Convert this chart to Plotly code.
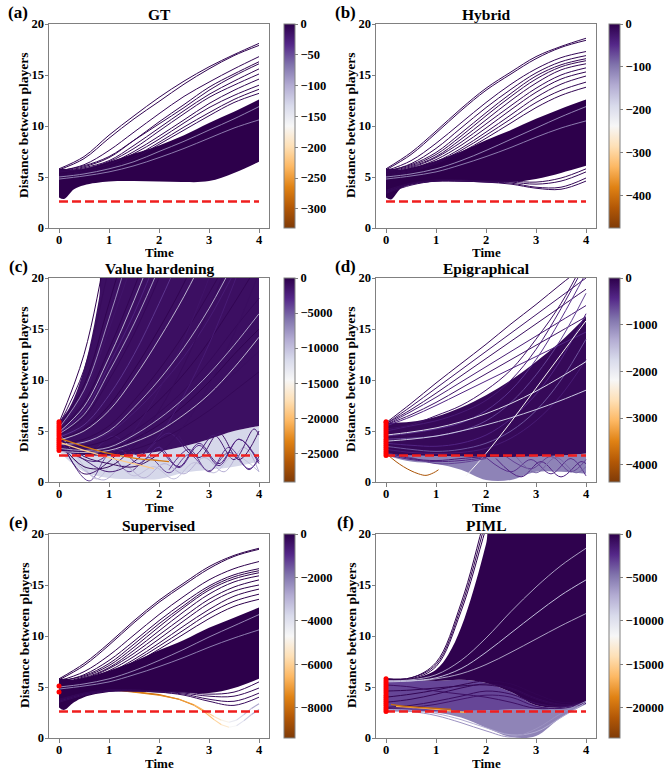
import plotly.graph_objects as go
from plotly.colors import sample_colorscale

# ---------------------------------------------------------------- data
T9 = [0, 0.5, 1, 1.5, 2, 2.5, 3, 3.5, 4]
BAND_T = [0, 0.1, 0.3, 0.5, 1, 1.5, 2, 2.5, 3, 3.5, 4]
TIME_TICKS = [0, 1, 2, 3, 4]
DIST_TICKS = [0, 5, 10, 15, 20]
SAFE_DISTANCE = 2.6

PANEL_LETTERS = ["(a)", "(b)", "(c)", "(d)", "(e)", "(f)"]
PANEL_TITLES = ["GT", "Hybrid", "Value hardening", "Epigraphical", "Supervised", "PIML"]
CBAR_MIN = [-331, -475, -29100, -4370, -9400, -23500]
CBAR_TICKS = [
    [0, -50, -100, -150, -200, -250, -300],
    [0, -100, -200, -300, -400],
    [0, -5000, -10000, -15000, -20000, -25000],
    [0, -1000, -2000, -3000, -4000],
    [0, -2000, -4000, -6000, -8000],
    [0, -5000, -10000, -15000, -20000],
]

# ---- (a) GT
A_BAND_LOW = [3.0, 2.85, 3.8, 4.2, 4.55, 4.6, 4.55, 4.5, 4.6, 5.4, 6.5]
A_BAND_HIGH = [5.8, 5.8, 5.7, 5.8, 6.5, 7.3, 8.1, 9.1, 10.3, 11.4, 12.6]
A_LINES = [
    [5.8, 7.0, 9.1, 11.0, 12.8, 14.4, 15.8, 17.0, 18.1],
    [5.7, 6.8, 8.8, 10.7, 12.4, 14.1, 15.6, 16.9, 17.9],
    [5.6, 6.2, 7.6, 9.4, 11.2, 12.9, 14.3, 15.6, 16.8],
    [5.5, 6.0, 6.9, 8.6, 10.4, 12.1, 13.8, 15.1, 16.3],
    [5.6, 6.1, 7.0, 8.6, 10.2, 11.8, 13.5, 14.9, 16.1],
    [5.4, 5.9, 6.6, 8.1, 9.8, 11.5, 13.1, 14.4, 15.6],
    [5.5, 5.8, 6.5, 7.8, 9.5, 11.2, 12.8, 14.0, 15.1],
    [5.3, 5.7, 6.3, 7.5, 9.0, 10.6, 12.2, 13.5, 14.6],
    [5.2, 5.6, 6.2, 7.3, 8.7, 10.3, 11.8, 13.0, 14.0],
    [5.0, 5.5, 6.0, 7.0, 8.4, 9.9, 11.3, 12.6, 13.6],
    [5.1, 5.4, 5.9, 6.8, 8.2, 9.6, 11.0, 12.3, 13.2],
    [5.0, 5.3, 5.8, 6.5, 7.5, 8.5, 9.6, 10.7, 11.9],
    [4.8, 5.1, 5.5, 6.1, 6.9, 7.8, 8.8, 9.8, 10.6],
]
A_VALUES = [-5, -4, -6, -3, -5, -4, -6, -3, -5, -4, -6, -95, -90]

# ---- (b) Hybrid
B_BAND_LOW = [3.0, 2.8, 3.9, 4.3, 4.6, 4.65, 4.55, 4.5, 4.8, 5.4, 6.1]
B_BAND_HIGH = [5.8, 5.8, 5.7, 5.9, 6.6, 7.5, 8.6, 9.6, 10.7, 11.7, 12.6]
B_LINES = [
    [5.8, 7.4, 9.5, 11.7, 13.7, 15.3, 16.8, 17.8, 18.6],
    [5.7, 7.2, 9.3, 11.5, 13.5, 15.1, 16.6, 17.7, 18.4],
    [5.6, 6.6, 8.3, 10.3, 12.3, 14.1, 15.6, 16.7, 17.3],
    [5.5, 6.3, 7.8, 9.8, 11.8, 13.6, 15.2, 16.3, 16.9],
    [5.6, 6.2, 7.4, 9.3, 11.3, 13.2, 14.9, 16.0, 16.6],
    [5.5, 6.1, 7.2, 9.0, 11.0, 12.9, 14.6, 15.8, 16.4],
    [5.4, 6.0, 7.0, 8.7, 10.6, 12.5, 14.2, 15.5, 16.1],
    [5.3, 5.9, 6.9, 8.4, 10.2, 12.0, 13.7, 15.0, 15.7],
    [5.4, 5.8, 6.7, 8.1, 9.8, 11.6, 13.3, 14.6, 15.3],
    [5.2, 5.7, 6.5, 7.8, 9.4, 11.1, 12.8, 14.1, 14.9],
    [5.1, 5.6, 6.4, 7.6, 9.1, 10.7, 12.3, 13.5, 14.3],
    [5.0, 5.5, 6.3, 7.4, 8.8, 10.3, 11.8, 13.0, 13.8],
    [3.5, 4.3, 4.6, 4.6, 4.5, 4.3, 3.9, 3.8, 4.6],
    [3.4, 4.2, 4.6, 4.6, 4.5, 4.4, 4.0, 4.0, 4.9],
    [3.6, 4.3, 4.6, 4.6, 4.6, 4.5, 4.3, 4.6, 5.5],
    [3.7, 4.4, 4.7, 4.7, 4.6, 4.6, 4.5, 4.9, 5.8],
    [5.0, 5.3, 5.8, 6.6, 7.6, 8.7, 9.8, 10.9, 11.9],
    [4.8, 5.1, 5.5, 6.2, 7.0, 7.9, 8.9, 9.8, 10.5],
]
B_VALUES = [-8, -6, -9, -5, -7, -8, -6, -9, -5, -7, -8, -6, -12, -10, -9, -8,
            -140, -130]

# ---- (c) Value hardening
C_MAIN_LOW = [3.0, 2.7, 2.6, 2.7, 3.0, 3.5, 4.2, 5.0, 5.5]
C_MAIN_HIGH_T = [0, 0.2, 0.4, 0.6, 0.8, 1.0, 4.0]
C_MAIN_HIGH = [5.9, 7.2, 9.5, 13.0, 18.0, 24.0, 24.0]
C_LOW_LOW = [3.0, 1.0, 0.4, 0.3, 0.3, 0.9, 1.2, 1.5, 2.0]
C_RISE = [
    [5.8, 12.5, 24, 36, 48, 60, 72, 84, 96],
    [5.6, 11.0, 21, 31, 41, 51, 61, 71, 81],
    [5.4, 9.5, 17.5, 26, 35, 44, 53, 62, 71],
    [5.2, 8.6, 15.0, 22, 30, 38, 46, 54, 62],
    [5.0, 7.8, 13.0, 19.0, 25.5, 32, 39, 46, 53],
    [4.8, 7.0, 11.5, 16.5, 22.5, 29, 36, 43, 50],
    [4.6, 6.3, 10.0, 14.5, 20.0, 26, 32, 38, 44],
    [4.4, 5.6, 8.5, 12.5, 17.5, 23, 29, 35, 41],
    [4.2, 5.2, 7.5, 11.0, 15.0, 19.5, 25, 31, 37],
    [4.0, 4.6, 6.5, 9.5, 13.0, 17.0, 21.5, 27, 33],
    [3.8, 4.2, 5.5, 8.0, 11.0, 14.5, 18.5, 23, 28],
    [3.6, 3.8, 4.8, 6.8, 9.3, 12.3, 16.0, 20.5, 25],
    [3.5, 3.5, 4.2, 5.8, 8.0, 10.6, 13.8, 17.5, 21.5],
    [3.4, 3.2, 3.6, 5.0, 6.8, 9.0, 11.8, 15.0, 18.0],
    [3.3, 3.0, 3.2, 4.2, 5.6, 7.5, 9.8, 12.5, 15.0],
    [3.2, 2.8, 2.9, 3.6, 4.8, 6.4, 8.4, 10.6, 12.8],
    [3.1, 2.7, 2.7, 3.2, 4.1, 5.4, 7.0, 8.9, 10.8],
    [4.5, 0.8, 2.0, 5.0, 9.0, 14.0, 20.0, 27, 34],
    [4.0, 1.5, 1.5, 3.5, 7.0, 11.5, 17.0, 23, 30],
    [3.9, 2.2, 1.0, 2.0, 4.5, 8.5, 13.5, 19.5, 26],
    [4.3, 2.5, 1.8, 1.5, 2.8, 5.5, 9.5, 14.5, 20.5],
    [5.3, 9.0, 16.0, 24, 32, 40, 48, 56, 64],
    [4.7, 6.6, 10.8, 15.5, 21, 27, 33, 39, 45],
    [4.1, 5.0, 7.0, 10.2, 14.0, 18.2, 23, 28, 33],
    [3.7, 3.9, 5.0, 7.3, 10.0, 13.2, 17.0, 21.5, 26],
    [4.9, 7.4, 12.2, 17.8, 24, 30, 36, 42, 48],
    [3.3, 3.1, 3.4, 4.6, 6.2, 8.2, 10.6, 13.4, 16.5],
    [3.0, 2.9, 3.1, 3.9, 5.0, 6.6, 8.6, 11.2, 14.2],
]
C_RISE_VALUES = [-200, -800, -300, -1500, -400, -2500, -600, -3500, -300, -1200,
                 -500, -2000, -400, -700, -300, -1000, -600, -1500, -800, -2000,
                 -1000, -9000, -10000, -12000, -11000, -11500, -10500, -12500]
C_ZIG_T = [
    [0, 0.6, 1.0, 1.4, 1.8, 2.2, 2.6, 3.0, 3.4, 3.8, 4.0],
    [0, 0.5, 0.9, 1.3, 1.7, 2.1, 2.5, 2.9, 3.3, 3.7, 4.0],
    [0, 0.7, 1.2, 1.6, 2.0, 2.4, 2.8, 3.2, 3.6, 4.0],
    [0, 0.6, 1.1, 1.6, 2.2, 2.7, 3.1, 3.5, 3.9, 4.0],
    [0, 0.4, 0.75, 1.1, 1.5, 1.9, 2.3, 2.7, 3.1, 3.5, 4.0],
    [2.0, 2.4, 2.8, 3.2, 3.6, 4.0],
    [2.2, 2.6, 3.0, 3.4, 3.8, 4.0],
    [2.4, 2.8, 3.2, 3.6, 4.0],
]
C_ZIG = [
    [4.5, 0.1, 2.6, 1.0, 2.4, 0.9, 2.7, 1.1, 2.9, 1.3, 2.2],
    [4.0, 1.2, 0.2, 1.6, 0.4, 1.8, 0.8, 2.4, 1.0, 3.4, 1.0],
    [3.6, 2.0, 3.2, 1.8, 3.4, 1.4, 3.6, 1.6, 4.2, 1.8],
    [5.0, 3.0, 4.5, 2.6, 4.8, 2.6, 4.6, 2.2, 5.2, 4.6],
    [4.8, 2.2, 0.3, 1.8, 0.6, 1.5, 0.3, 1.9, 0.9, 2.6, 1.0],
    [3.5, 1.5, 3.8, 1.8, 4.2, 2.0],
    [1.2, 3.2, 1.0, 3.4, 1.2, 2.5],
    [4.5, 2.4, 4.8, 2.2, 5.0],
]
C_ZIG_VALUES = [-4000, -9000, -3000, -2000, -10000, -2500, -3500, -1500]
C_ORANGE_T = [[0, 0.5, 1.0, 1.5, 2.0, 2.2], [0, 0.5, 1.0, 1.5, 1.9]]
C_ORANGE = [[4.3, 3.5, 2.8, 2.35, 2.1, 2.0], [3.9, 3.1, 2.4, 1.8, 1.3]]
C_ORANGE_VALUES = [-24000, -19000]
C_RED = [3.1, 3.3, 3.5, 3.7, 3.9, 4.1, 4.3, 4.5, 4.7, 4.9, 5.1, 5.3, 5.5, 5.7, 5.9]

# ---- (d) Epigraphical
D_DARK_LOW = [2.7, 2.6, 2.55, 2.5, 2.45, 2.45, 2.5, 2.6, 2.8]
D_DARK_HIGH = [5.8, 5.9, 6.4, 7.3, 8.5, 10.0, 11.8, 13.8, 16.2]
D_LIGHT_LOW = [2.6, 2.0, 1.8, 1.2, 0.2, 0.2, 1.0, 1.0, 0.8]
D_LINES = [
    [5.8, 7.7, 9.7, 11.6, 13.5, 15.5, 17.4, 19.4, 21.3],
    [5.7, 7.4, 9.2, 11.0, 12.8, 14.6, 16.4, 18.2, 20.0],
    [5.7, 7.1, 8.7, 10.4, 12.1, 13.8, 15.5, 17.2, 18.9],
    [5.6, 6.9, 8.3, 9.8, 11.3, 12.8, 14.3, 15.8, 17.3],
    [5.6, 6.6, 7.8, 9.2, 10.6, 12.0, 13.4, 14.8, 16.2],
    [5.5, 6.4, 7.5, 8.7, 9.9, 11.1, 12.3, 13.5, 14.7],
    [5.0, 5.5, 6.0, 6.8, 8.0, 10.0, 13.0, 17.0, 21.5],
    [4.5, 4.8, 5.2, 5.8, 7.0, 9.0, 12.0, 16.0, 20.5],
    [5.2, 5.6, 6.5, 7.5, 9.0, 11.0, 14.0, 17.5, 22.0],
    [4.2, 4.3, 4.5, 5.0, 6.0, 7.8, 10.5, 14.0, 18.5],
    [3.8, 3.6, 3.5, 3.8, 4.6, 6.2, 8.6, 12.0, 16.5],
    [3.5, 3.2, 3.0, 3.2, 3.8, 5.0, 7.0, 10.0, 14.0],
    [3.2, 2.9, 2.8, 2.9, 3.3, 4.3, 6.0, 8.5, 12.0],
    [4.6, 4.9, 5.3, 5.9, 6.7, 7.7, 8.9, 10.3, 11.8],
    [4.0, 4.2, 4.5, 5.0, 5.6, 6.3, 7.1, 8.0, 9.0],
]
D_VALUES = [-100, -200, -150, -300, -200, -400, -300, -500, -200, -600,
            -400, -700, -300, -1800, -1600]
D_EXTRA_T = [
    [1.6, 2.0, 2.5, 3.0, 3.5, 4.0],
    [2.0, 2.5, 2.9, 3.3, 3.7, 4.0],
    [2.2, 2.7, 3.1, 3.5, 3.9, 4.0],
    [2.4, 2.9, 3.3, 3.7, 4.0],
    [2.6, 3.0, 3.4, 3.8, 4.0],
    [0, 0.5, 1.0, 1.5, 2.0],
    [0, 0.5, 1.0, 1.5, 2.0],
    [0, 0.5, 1.0, 1.5, 2.0],
    [0.05, 0.2, 0.35, 0.5, 0.65, 0.8, 0.95, 1.05],
]
D_EXTRA = [
    [0.6, 2.8, 5.9, 9.2, 12.5, 15.8],
    [2.4, 1.0, 2.2, 0.8, 2.3, 0.6],
    [2.3, 0.5, 2.0, 0.5, 2.0, 1.8],
    [2.5, 1.3, 2.5, 1.0, 2.2],
    [2.5, 0.9, 2.4, 0.9, 1.5],
    [2.7, 2.2, 2.0, 2.1, 2.4],
    [2.8, 2.4, 1.8, 1.9, 2.3],
    [2.9, 2.3, 2.1, 2.3, 2.5],
    [2.6, 2.0, 1.5, 1.1, 0.8, 0.65, 0.9, 1.2],
]
D_EXTRA_VALUES = [-2200, -500, -400, -600, -800, -400, -600, -300, -4000]
D_RED = [2.6, 2.8, 3.0, 3.2, 3.4, 3.6, 3.8, 4.0, 4.2, 4.4, 4.6, 4.8, 5.0,
         5.2, 5.4, 5.6, 5.8, 5.9]

# ---- (e) Supervised
E_BAND_LOW = [3.0, 2.75, 3.5, 4.0, 4.5, 4.6, 4.55, 4.45, 4.4, 4.9, 5.8]
E_BAND_HIGH = [5.8, 5.8, 5.7, 5.9, 6.6, 7.5, 8.6, 9.6, 10.8, 11.8, 12.8]
E_LINES = [
    [5.8, 7.3, 9.3, 11.5, 13.5, 15.2, 16.8, 17.9, 18.6],
    [5.7, 7.1, 9.1, 11.3, 13.3, 15.0, 16.6, 17.8, 18.5],
    [5.6, 6.5, 8.1, 10.1, 12.1, 13.9, 15.5, 16.6, 17.3],
    [5.5, 6.2, 7.6, 9.5, 11.5, 13.3, 14.9, 16.0, 16.6],
    [5.6, 6.1, 7.3, 9.2, 11.2, 13.0, 14.7, 15.8, 16.4],
    [5.4, 6.0, 7.1, 8.9, 10.9, 12.8, 14.5, 15.6, 16.2],
    [5.4, 5.9, 6.9, 8.6, 10.5, 12.4, 14.1, 15.3, 15.9],
    [5.3, 5.8, 6.8, 8.3, 10.1, 11.9, 13.6, 14.8, 15.5],
    [5.3, 5.7, 6.6, 8.0, 9.7, 11.5, 13.2, 14.4, 15.0],
    [5.2, 5.6, 6.4, 7.7, 9.3, 11.0, 12.6, 13.9, 14.6],
    [5.1, 5.5, 6.3, 7.5, 9.0, 10.6, 12.2, 13.4, 14.1],
    [5.0, 5.4, 6.2, 7.3, 8.7, 10.2, 11.7, 12.9, 13.6],
    [3.6, 4.3, 4.6, 4.6, 4.5, 4.2, 3.6, 3.2, 4.0],
    [3.5, 4.2, 4.6, 4.6, 4.5, 4.3, 3.8, 3.6, 4.4],
    [3.7, 4.4, 4.7, 4.7, 4.6, 4.4, 4.1, 4.1, 4.9],
    [3.8, 4.4, 4.7, 4.7, 4.6, 4.5, 4.3, 4.5, 5.5],
    [5.0, 5.3, 5.8, 6.6, 7.6, 8.7, 9.9, 11.0, 12.1],
    [4.8, 5.1, 5.5, 6.2, 7.0, 7.9, 8.9, 9.8, 10.6],
]
E_VALUES = [-20, -15, -25, -10, -20, -15, -25, -10, -20, -15, -25, -10,
            -300, -250, -200, -150, -2800, -2600]
E_ORANGE_T = [0, 0.5, 1.0, 1.5, 2.0, 2.4, 2.7, 2.9, 3.1, 3.25, 3.4, 3.55, 3.7, 3.85, 4.0]
E_ORANGE = [
    [5.1, 5.05, 4.8, 4.55, 4.25, 3.8, 3.2, 2.6, 1.8, 1.3, 1.05, 1.2, 1.7, 2.3, 2.8],
    [4.5, 4.9, 4.75, 4.5, 4.2, 3.8, 3.25, 2.7, 2.1, 1.75, 1.55, 1.75, 2.3, 2.9, 3.35],
]
E_ORANGE_COST = [
    [-8600, -8600, -8500, -8200, -8000, -7700, -7300, -6800, -6200, -5600, -5000, -4400, -3700, -3100, -2700],
    [-8000, -8000, -7900, -7700, -7500, -7200, -6900, -6400, -5800, -5200, -4600, -4000, -3400, -2900, -2500],
]
E_RED = [5.1, 4.5]

# ---- (f) PIML
F_DARK_LOW = [5.8, 5.7, 5.6, 5.7, 5.4, 4.5, 3.2, 3.0, 3.4]
F_DARK_HIGH_T = [0, 0.5, 1.0, 1.25, 1.5, 1.75, 2.0, 2.15, 4.0]
F_DARK_HIGH = [5.8, 5.8, 6.7, 8.2, 10.8, 14.5, 19.0, 22, 22]
F_MID_LOW = [2.7, 2.65, 2.6, 2.65, 2.7, 2.8, 2.8, 3.0, 3.4]
F_LIGHT_LOW = [2.6, 2.6, 2.5, 2.0, 1.0, 0.1, 0.2, 2.0, 3.3]
F_LINES = [
    [5.8, 5.9, 7.4, 13.2, 22.0, 31, 40, 49, 58],
    [5.8, 5.9, 7.2, 12.8, 21.3, 30, 39, 48, 57],
    [5.7, 5.8, 7.0, 12.4, 20.6, 29, 38, 47, 56],
    [3.5, 3.8, 4.3, 4.9, 5.3, 4.9, 3.9, 3.3, 3.5],
    [4.0, 4.3, 4.7, 5.2, 5.6, 5.3, 4.3, 3.5, 3.6],
    [3.0, 3.2, 3.6, 4.1, 4.6, 4.3, 3.4, 3.1, 3.5],
    [4.6, 4.7, 4.9, 5.1, 5.2, 4.8, 3.8, 3.2, 3.4],
    [5.2, 5.0, 4.6, 4.3, 4.0, 3.5, 2.9, 3.0, 3.5],
    [2.9, 3.0, 3.3, 3.8, 4.2, 4.0, 3.1, 2.9, 3.4],
    [2.8, 2.7, 2.4, 1.8, 1.0, 0.3, 0.6, 2.0, 3.5],
    [2.7, 2.6, 2.2, 1.5, 0.7, 0.1, 0.9, 2.4, 3.6],
    [5.6, 5.7, 6.2, 7.6, 9.8, 12.4, 14.8, 16.9, 18.6],
    [5.5, 5.6, 5.9, 6.8, 8.4, 10.3, 12.2, 14.0, 15.5],
    [5.6, 5.6, 5.8, 6.3, 7.2, 8.4, 9.7, 11.0, 12.2],
]
F_VALUES = [-100, -150, -100, -500, -300, -800, -400, -1000, -1200, -7000, -6000,
            -8500, -8000, -8500]
F_ORANGE_T = [[0.2, 0.5, 0.8, 1.1, 1.4, 1.6], [0.1, 0.4, 0.7, 1.0, 1.3]]
F_ORANGE = [[3.1, 3.0, 2.9, 2.75, 2.6, 2.5], [3.3, 3.1, 3.0, 2.9, 2.8]]
F_ORANGE_VALUES = [-17000, -20000]
F_RED = [2.6, 2.8, 3.0, 3.2, 3.4, 3.6, 3.8, 4.0, 4.2, 4.4, 4.6, 4.8, 5.0,
         5.2, 5.4, 5.6, 5.8]

# ---------------------------------------------------------------- style
W, H = 665, 770
FONT = "Liberation Serif"
PUOR = [
    [0.0, "rgb(127,59,8)"], [0.1, "rgb(179,88,6)"], [0.2, "rgb(224,130,20)"],
    [0.3, "rgb(253,184,99)"], [0.4, "rgb(254,224,182)"], [0.5, "rgb(247,247,247)"],
    [0.6, "rgb(216,218,235)"], [0.7, "rgb(178,171,210)"], [0.8, "rgb(128,115,172)"],
    [0.9, "rgb(84,39,136)"], [1.0, "rgb(45,0,75)"],
]
SPINE = "#808080"
# panel boxes in pixels: (left, right, top, bottom, colorbar left)
BOXES = [
    (49, 269, 24, 228, 284), (376, 596, 24, 228, 609),
    (49, 269, 278, 482, 284), (376, 596, 278, 482, 609),
    (49, 269, 534, 738, 284), (376, 596, 534, 738, 609),
]

fig = go.Figure()


def px_x(p):
    return p / W


def px_y(p):
    return 1 - p / H


def cmap(v, vmin):
    f = (v - vmin) / (0 - vmin)
    f = min(max(f, 0.0), 1.0)
    return sample_colorscale(PUOR, [f])[0]


def ax(i):
    return ("x" if i == 0 else f"x{i+1}", "y" if i == 0 else f"y{i+1}")


def line(i, t, d, color, width=1.0, shape="spline", dash=None):
    xa, ya = ax(i)
    fig.add_trace(go.Scatter(x=t, y=d, mode="lines", xaxis=xa, yaxis=ya,
                             line=dict(color=color, width=width, shape=shape, dash=dash),
                             showlegend=False, hoverinfo="skip"))


def band(i, t_low, low, t_high, high, color, shape="spline"):
    xa, ya = ax(i)
    fig.add_trace(go.Scatter(x=t_low, y=low, mode="lines", xaxis=xa, yaxis=ya,
                             line=dict(width=0, shape=shape, color=color),
                             showlegend=False, hoverinfo="skip"))
    fig.add_trace(go.Scatter(x=t_high, y=high, mode="lines", xaxis=xa, yaxis=ya,
                             line=dict(width=0, shape=shape, color=color),
                             fill="tonexty", fillcolor=color,
                             showlegend=False, hoverinfo="skip"))


def segmented(i, t, d, cost, vmin, width=1.1):
    for k in range(len(t) - 1):
        c = cmap((cost[k] + cost[k + 1]) / 2, vmin)
        line(i, t[k:k + 2], d[k:k + 2], c, width, "linear")


def red_marks(i, vals):
    xa, ya = ax(i)
    fig.add_trace(go.Scatter(x=[0] * len(vals), y=vals, mode="markers", xaxis=xa, yaxis=ya,
                             marker=dict(color="red", size=5, line=dict(width=0)),
                             showlegend=False, hoverinfo="skip"))


def safe_line(i):
    line(i, [0, 4], [SAFE_DISTANCE, SAFE_DISTANCE], "rgb(240,30,30)", 2.3, "linear",
         "9px,4px")


# (a)
vm = CBAR_MIN[0]
band(0, BAND_T, A_BAND_LOW, BAND_T, A_BAND_HIGH, cmap(0, vm))
for d, v in zip(A_LINES, A_VALUES):
    line(0, T9, d, cmap(v, vm), 0.8 if v < -50 else 1.0)
safe_line(0)

# (b)
vm = CBAR_MIN[1]
band(1, BAND_T, B_BAND_LOW, BAND_T, B_BAND_HIGH, cmap(0, vm))
for d, v in zip(B_LINES, B_VALUES):
    line(1, T9, d, cmap(v, vm), 0.8 if v < -50 else 1.0)
safe_line(1)

# (c)
vm = CBAR_MIN[2]
band(2, T9, C_LOW_LOW, T9, C_MAIN_LOW, cmap(-11500, vm))
band(2, T9, C_MAIN_LOW, C_MAIN_HIGH_T, C_MAIN_HIGH, cmap(-1100, vm))
for t, d, v in zip(C_ZIG_T, C_ZIG, C_ZIG_VALUES):
    line(2, t, d, cmap(v, vm))
for d, v in zip(C_RISE, C_RISE_VALUES):
    line(2, T9, d, cmap(v, vm), 0.8 if v < -8000 else 1.0)
for t, d, v in zip(C_ORANGE_T, C_ORANGE, C_ORANGE_VALUES):
    line(2, t, d, cmap(v, vm), 1.3)
safe_line(2)
red_marks(2, C_RED)

# (d)
vm = CBAR_MIN[3]
band(3, T9, D_LIGHT_LOW, T9, D_DARK_LOW, cmap(-1000, vm))
band(3, T9, D_DARK_LOW, T9, D_DARK_HIGH, cmap(-100, vm))
for d, v in zip(D_LINES, D_VALUES):
    line(3, T9, d, cmap(v, vm))
for t, d, v in zip(D_EXTRA_T, D_EXTRA, D_EXTRA_VALUES):
    line(3, t, d, cmap(v, vm))
safe_line(3)
red_marks(3, D_RED)

# (e)
vm = CBAR_MIN[4]
for d, c in zip(E_ORANGE, E_ORANGE_COST):
    segmented(4, E_ORANGE_T, d, c, vm)
band(4, BAND_T, E_BAND_LOW, BAND_T, E_BAND_HIGH, cmap(0, vm))
for d, v in zip(E_LINES, E_VALUES):
    line(4, T9, d, cmap(v, vm), 0.8 if v < -1000 else 1.0)
safe_line(4)
red_marks(4, E_RED)

# (f)
vm = CBAR_MIN[5]
band(5, T9, F_LIGHT_LOW, T9, F_MID_LOW, cmap(-5400, vm))
band(5, T9, F_MID_LOW, T9, F_DARK_LOW, cmap(-3300, vm))
band(5, T9, F_DARK_LOW, F_DARK_HIGH_T, F_DARK_HIGH, cmap(-100, vm))
for d, v in zip(F_LINES, F_VALUES):
    line(5, T9, d, cmap(v, vm), 0.8 if v < -8000 else 1.0)
for t, d, v in zip(F_ORANGE_T, F_ORANGE, F_ORANGE_VALUES):
    line(5, t, d, cmap(v, vm), 1.3)
safe_line(5)
red_marks(5, F_RED)

# colorbars
for i, (l, r, t, b, cb) in enumerate(BOXES):
    xa, ya = ax(i)
    ticks = CBAR_TICKS[i]
    fig.add_trace(go.Scatter(
        x=[-5], y=[-5], mode="markers", xaxis=xa, yaxis=ya, showlegend=False,
        hoverinfo="skip",
        marker=dict(color=[0], colorscale=PUOR, cmin=CBAR_MIN[i], cmax=0, size=1,
                    showscale=True,
                    colorbar=dict(x=px_x(cb), xanchor="left", xpad=0,
                                  y=px_y(t), yanchor="top", ypad=0,
                                  len=b - t, lenmode="pixels",
                                  thickness=11, thicknessmode="pixels",
                                  outlinewidth=1, outlinecolor=SPINE,
                                  tickvals=ticks,
                                  ticktext=["0" if v == 0 else "\u2212" + str(abs(v)) for v in ticks],
                                  ticks="outside", ticklen=3, tickcolor=SPINE,
                                  tickfont=dict(family=FONT, size=12.5, color="black",
                                                weight="bold")))))

layout = dict(width=W, height=H, margin=dict(l=0, r=0, t=0, b=0, autoexpand=False),
              plot_bgcolor="white", paper_bgcolor="white", showlegend=False)
annotations = []
for i, (l, r, t, b, cb) in enumerate(BOXES):
    xk = "xaxis" if i == 0 else f"xaxis{i+1}"
    yk = "yaxis" if i == 0 else f"yaxis{i+1}"
    xa, ya = ax(i)
    common = dict(showline=True, mirror=True, linecolor=SPINE, linewidth=1,
                  showgrid=False, zeroline=False, ticks="outside", ticklen=3.5,
                  tickwidth=1, tickcolor=SPINE, automargin=False,
                  tickfont=dict(family=FONT, size=12.5, color="black", weight="bold"))
    layout[xk] = dict(domain=[px_x(l), px_x(r)], range=[-0.2, 4.2], tickvals=TIME_TICKS,
                      anchor=ya, ticklabelstandoff=-4, **common)
    layout[yk] = dict(domain=[px_y(b), px_y(t)], range=[0, 20], tickvals=DIST_TICKS,
                      anchor=xa, ticklabelstandoff=-2, **common)
    cx = (l + r) / 2
    annotations.append(dict(text=PANEL_TITLES[i], x=px_x(cx), y=px_y(t - 9),
                            xref="paper", yref="paper", showarrow=False,
                            xanchor="center", yanchor="middle",
                            font=dict(family=FONT, size=15.5, color="black", weight="bold")))
    annotations.append(dict(text=PANEL_LETTERS[i], x=px_x(l - 31), y=px_y(t - 12),
                            xref="paper", yref="paper", showarrow=False,
                            xanchor="center", yanchor="middle",
                            font=dict(family=FONT, size=17, color="black", weight="bold")))
    annotations.append(dict(text="Time", x=px_x(cx), y=px_y(b + 25),
                            xref="paper", yref="paper", showarrow=False,
                            xanchor="center", yanchor="middle", height=13,
                            font=dict(family=FONT, size=13, color="black", weight="bold")))
    annotations.append(dict(text="Distance between players", x=px_x(l - 25), y=px_y((t + b) / 2),
                            xref="paper", yref="paper", showarrow=False, textangle=-90,
                            xanchor="center", yanchor="middle",
                            font=dict(family=FONT, size=13.5, color="black", weight="bold")))
layout["annotations"] = annotations
fig.update_layout(**layout)
fig.write_html("out.html", config={"displayModeBar": False},
               post_script="document.body.style.margin='0';")
